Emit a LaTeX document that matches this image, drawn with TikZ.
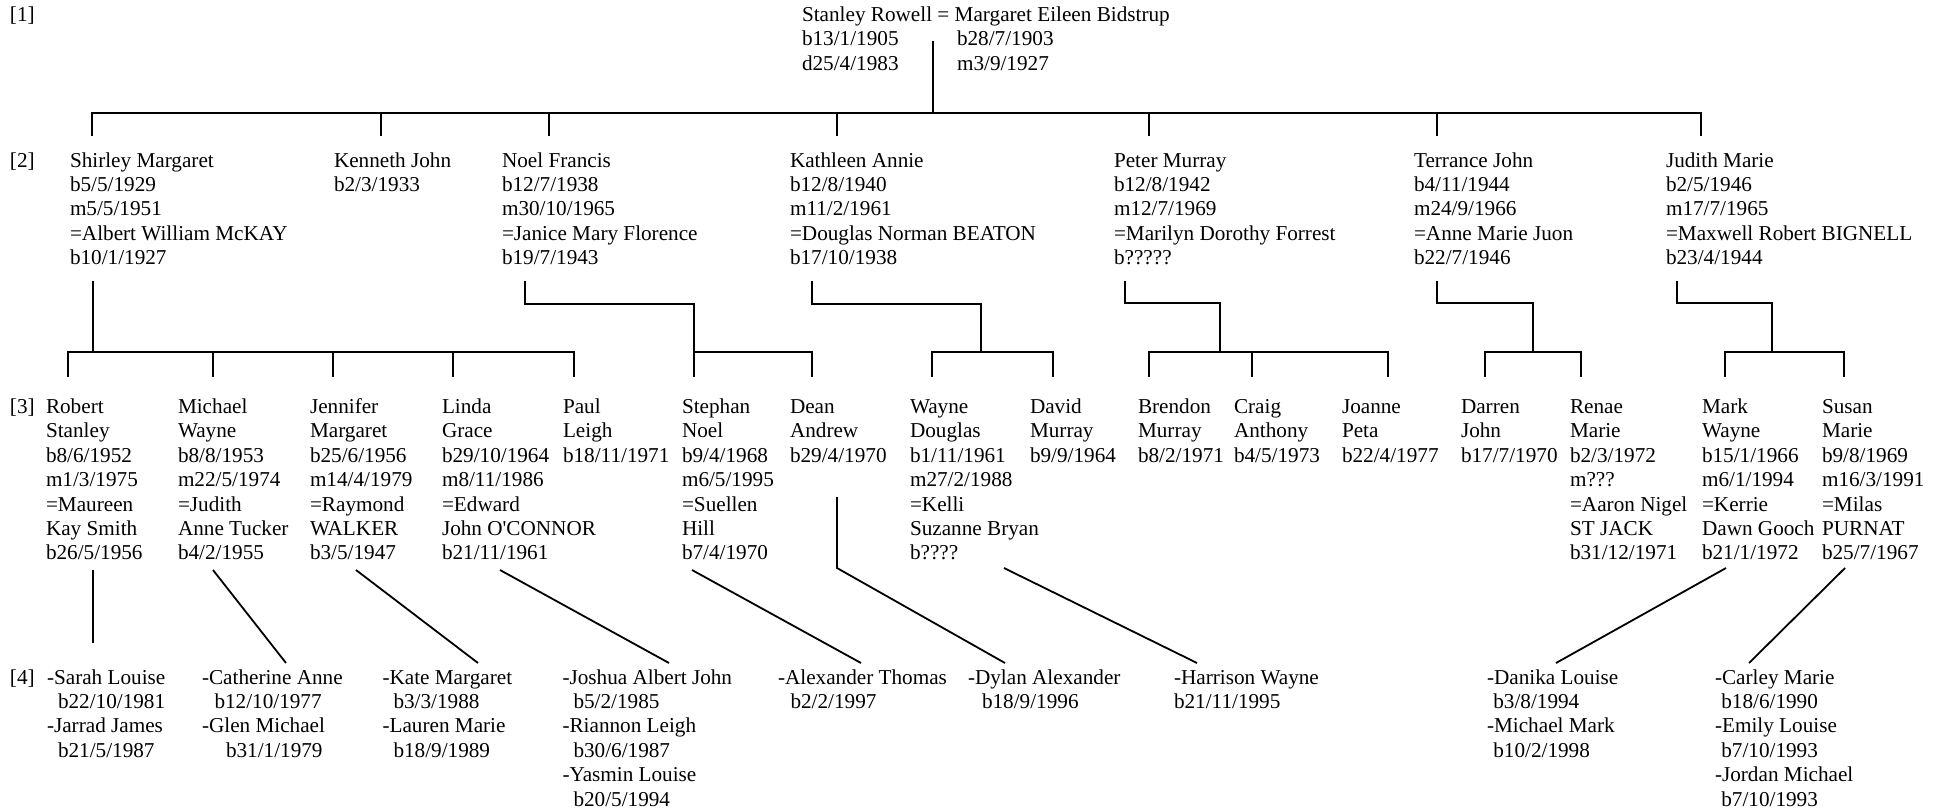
\documentclass[tikz,border=0pt]{standalone}
\usepackage{fontspec}
\setmainfont{Liberation Serif}
\usetikzlibrary{backgrounds}
\newcommand{\famrows}[1]{\begin{tabular}[t]{@{}l@{}}#1\end{tabular}}

\begin{document}
\begin{tikzpicture}[x=0.5pt,y=-0.5pt,
  person/.style={anchor=base west,inner sep=0pt,outer sep=0pt,font=\fontsize{10.6}{12.2}\selectfont},
  tie/.style={line width=0.9pt,line join=miter}]
\useasboundingbox (0,0) rectangle (1946,809);
% generation labels
\node[person] (g1) at (10,21.5) {[1]};
\node[person] (g2) at (10,167) {[2]};
\node[person] (g3) at (10,413.5) {[3]};
\node[person] (g4) at (10,684) {[4]};
% [1]
\node[person] (stanley) at (802,21.5) {\famrows{Stanley Rowell = Margaret Eileen Bidstrup\\b13/1/1905\\d25/4/1983}};
\node[person] (margaret) at (957,45.9) {\famrows{b28/7/1903\\m3/9/1927}};
% [2]
\node[person] (shirley) at (70,167) {\famrows{Shirley Margaret\\b5/5/1929\\m5/5/1951\\=Albert William McKAY\\b10/1/1927}};
\node[person] (kenneth) at (334,167) {\famrows{Kenneth John\\b2/3/1933}};
\node[person] (noel) at (502,167) {\famrows{Noel Francis\\b12/7/1938\\m30/10/1965\\=Janice Mary Florence\\b19/7/1943}};
\node[person] (kathleen) at (790,167) {\famrows{Kathleen Annie\\b12/8/1940\\m11/2/1961\\=Douglas Norman BEATON\\b17/10/1938}};
\node[person] (peter) at (1114,167) {\famrows{Peter Murray\\b12/8/1942\\m12/7/1969\\=Marilyn Dorothy Forrest\\b?????}};
\node[person] (terrance) at (1414,167) {\famrows{Terrance John\\b4/11/1944\\m24/9/1966\\=Anne Marie Juon\\b22/7/1946}};
\node[person] (judith) at (1666,167) {\famrows{Judith Marie\\b2/5/1946\\m17/7/1965\\=Maxwell Robert BIGNELL\\b23/4/1944}};
% [3]
\node[person] (robert) at (46,413.5) {\famrows{Robert\\Stanley\\b8/6/1952\\m1/3/1975\\=Maureen\\Kay Smith\\b26/5/1956}};
\node[person] (michael) at (178,413.5) {\famrows{Michael\\Wayne\\b8/8/1953\\m22/5/1974\\=Judith\\Anne Tucker\\b4/2/1955}};
\node[person] (jennifer) at (310,413.5) {\famrows{Jennifer\\Margaret\\b25/6/1956\\m14/4/1979\\=Raymond\\WALKER\\b3/5/1947}};
\node[person] (linda) at (442,413.5) {\famrows{Linda\\Grace\\b29/10/1964\\m8/11/1986\\=Edward\\John O\textquotesingle CONNOR\\b21/11/1961}};
\node[person] (paul) at (563,413.5) {\famrows{Paul\\Leigh\\b18/11/1971}};
\node[person] (stephan) at (682,413.5) {\famrows{Stephan\\Noel\\b9/4/1968\\m6/5/1995\\=Suellen\\Hill\\b7/4/1970}};
\node[person] (dean) at (790,413.5) {\famrows{Dean\\Andrew\\b29/4/1970}};
\node[person] (wayne) at (910,413.5) {\famrows{Wayne\\Douglas\\b1/11/1961\\m27/2/1988\\=Kelli\\Suzanne Bryan\\b????}};
\node[person] (david) at (1030,413.5) {\famrows{David\\Murray\\b9/9/1964}};
\node[person] (brendon) at (1138,413.5) {\famrows{Brendon\\Murray\\b8/2/1971}};
\node[person] (craig) at (1234,413.5) {\famrows{Craig\\Anthony\\b4/5/1973}};
\node[person] (joanne) at (1342,413.5) {\famrows{Joanne\\Peta\\b22/4/1977}};
\node[person] (darren) at (1461,413.5) {\famrows{Darren\\John\\b17/7/1970}};
\node[person] (renae) at (1570,413.5) {\famrows{Renae\\Marie\\b2/3/1972\\m???\\=Aaron Nigel\\ST JACK\\b31/12/1971}};
\node[person] (mark) at (1702,413.5) {\famrows{Mark\\Wayne\\b15/1/1966\\m6/1/1994\\=Kerrie\\Dawn Gooch\\b21/1/1972}};
\node[person] (susan) at (1822,413.5) {\famrows{Susan\\Marie\\b9/8/1969\\m16/3/1991\\=Milas\\PURNAT\\b25/7/1967}};
% [4]
\node[person] (sarah) at (47,684) {\famrows{-Sarah Louise\\\hspace*{5.5pt}b22/10/1981\\-Jarrad James\\\hspace*{5.5pt}b21/5/1987}};
\node[person] (catherine) at (202,684) {\famrows{-Catherine Anne\\\hspace*{6.25pt}b12/10/1977\\-Glen Michael\\\hspace*{12pt}b31/1/1979}};
\node[person] (kate) at (382.5,684) {\famrows{-Kate Margaret\\\hspace*{5.5pt}b3/3/1988\\-Lauren Marie\\\hspace*{5.5pt}b18/9/1989}};
\node[person] (joshua) at (562.5,684) {\famrows{-Joshua Albert John\\\hspace*{5.5pt}b5/2/1985\\-Riannon Leigh\\\hspace*{5.5pt}b30/6/1987\\-Yasmin Louise\\\hspace*{5.5pt}b20/5/1994}};
\node[person] (alexander) at (778,684) {\famrows{-Alexander Thomas\\\hspace*{6.25pt}b2/2/1997}};
\node[person] (dylan) at (968,684) {\famrows{-Dylan Alexander\\\hspace*{7pt}b18/9/1996}};
\node[person] (harrison) at (1174,684) {\famrows{-Harrison Wayne\\b21/11/1995}};
\node[person] (danika) at (1487,684) {\famrows{-Danika Louise\\\hspace*{3.15pt}b3/8/1994\\-Michael Mark\\\hspace*{3.15pt}b10/2/1998}};
\node[person] (carley) at (1715,684) {\famrows{-Carley Marie\\\hspace*{3.15pt}b18/6/1990\\-Emily Louise\\\hspace*{3.15pt}b7/10/1993\\-Jordan Michael\\\hspace*{3.15pt}b7/10/1993}};
% line ends
\coordinate (cpl) at (933,41);
\coordinate (bar1) at (933,113);
\coordinate (shirley-in) at (92,136);
\coordinate (kenneth-in) at (381,136);
\coordinate (noel-in) at (549,136);
\coordinate (kathleen-in) at (837,136);
\coordinate (peter-in) at (1149,136);
\coordinate (terrance-in) at (1437,136);
\coordinate (judith-in) at (1701,136);
\coordinate (shirley-out) at (93,281);
\coordinate (bar-s) at (93,352);
\coordinate (noel-out) at (525,281);
\coordinate (noel-knee) at (525,304);
\coordinate (bar-n) at (694,352);
\coordinate (kathleen-out) at (812,281);
\coordinate (kathleen-knee) at (812,304);
\coordinate (bar-k) at (981,352);
\coordinate (peter-out) at (1125,281);
\coordinate (peter-knee) at (1125,303);
\coordinate (bar-p) at (1220,352);
\coordinate (terrance-out) at (1437,281);
\coordinate (terrance-knee) at (1437,303);
\coordinate (bar-t) at (1533,352);
\coordinate (judith-out) at (1677,281);
\coordinate (judith-knee) at (1677,303);
\coordinate (bar-j) at (1772,352);
\coordinate (robert-in) at (68,377);
\coordinate (michael-in) at (213,377);
\coordinate (jennifer-in) at (333,377);
\coordinate (linda-in) at (453,377);
\coordinate (paul-in) at (574,377);
\coordinate (stephan-in) at (694,377);
\coordinate (dean-in) at (812,377);
\coordinate (wayne-in) at (932,377);
\coordinate (david-in) at (1053,377);
\coordinate (brendon-in) at (1149,377);
\coordinate (craig-in) at (1252,377);
\coordinate (joanne-in) at (1388,377);
\coordinate (darren-in) at (1485,377);
\coordinate (renae-in) at (1581,377);
\coordinate (mark-in) at (1725,377);
\coordinate (susan-in) at (1844,377);
\coordinate (robert-out) at (93,570);
\coordinate (michael-out) at (213,570);
\coordinate (jennifer-out) at (356,570);
\coordinate (linda-out) at (500,570);
\coordinate (stephan-out) at (692,570);
\coordinate (dean-out) at (837,497);
\coordinate (dean-knee) at (837,568);
\coordinate (wayne-out) at (1004,568);
\coordinate (mark-out) at (1726,568);
\coordinate (susan-out) at (1845,568);
\coordinate (sarah-in) at (93,643);
\coordinate (catherine-in) at (286,663);
\coordinate (kate-in) at (478,663);
\coordinate (joshua-in) at (669,663);
\coordinate (alexander-in) at (861,663);
\coordinate (dylan-in) at (1005,663);
\coordinate (harrison-in) at (1197,663);
\coordinate (danika-in) at (1556,663);
\coordinate (carley-in) at (1749,663);
% [1] to [2]
\draw[tie] (cpl) -- (bar1);
\draw[tie] (shirley-in) |- (bar1) -| (judith-in);
\draw[tie] (kenneth-in |- bar1) -- (kenneth-in);
\draw[tie] (noel-in |- bar1) -- (noel-in);
\draw[tie] (kathleen-in |- bar1) -- (kathleen-in);
\draw[tie] (peter-in |- bar1) -- (peter-in);
\draw[tie] (terrance-in |- bar1) -- (terrance-in);
% [2] to [3]
\draw[tie] (shirley-out) -- (bar-s);
\draw[tie] (robert-in) |- (bar-s) -| (paul-in);
\draw[tie] (michael-in |- bar-s) -- (michael-in);
\draw[tie] (jennifer-in |- bar-s) -- (jennifer-in);
\draw[tie] (linda-in |- bar-s) -- (linda-in);
\draw[tie] (noel-out) -- (noel-knee) -| (stephan-in);
\draw[tie] (bar-n) -| (dean-in);
\draw[tie] (kathleen-out) -- (kathleen-knee) -| (bar-k);
\draw[tie] (wayne-in) |- (bar-k) -| (david-in);
\draw[tie] (peter-out) -- (peter-knee) -| (bar-p);
\draw[tie] (brendon-in) |- (bar-p) -| (joanne-in);
\draw[tie] (craig-in |- bar-p) -- (craig-in);
\draw[tie] (terrance-out) -- (terrance-knee) -| (bar-t);
\draw[tie] (darren-in) |- (bar-t) -| (renae-in);
\draw[tie] (judith-out) -- (judith-knee) -| (bar-j);
\draw[tie] (mark-in) |- (bar-j) -| (susan-in);
% [3] to [4]
\draw[tie] (robert-out) -- (sarah-in);
\draw[tie] (michael-out) -- (catherine-in);
\draw[tie] (jennifer-out) -- (kate-in);
\draw[tie] (linda-out) -- (joshua-in);
\draw[tie] (stephan-out) -- (alexander-in);
\draw[tie] (dean-out) -- (dean-knee) -- (dylan-in);
\draw[tie] (wayne-out) -- (harrison-in);
\draw[tie] (mark-out) -- (danika-in);
\draw[tie] (susan-out) -- (carley-in);
\end{tikzpicture}
\end{document}
